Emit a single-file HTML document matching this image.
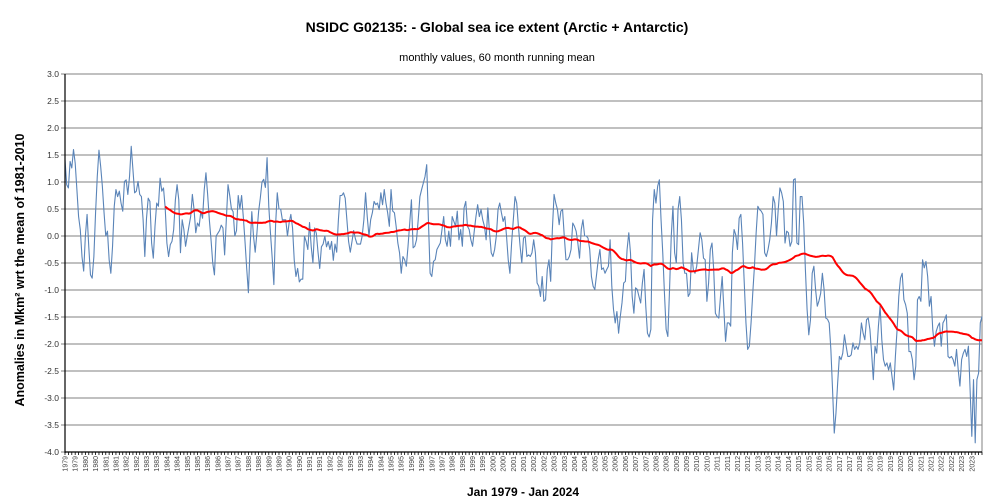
<!DOCTYPE html>
<html><head><meta charset="utf-8">
<style>
html,body{margin:0;padding:0;background:#fff;}
svg{display:block;font-family:"Liberation Sans",sans-serif;}
</style></head>
<body>
<svg id="chart" width="994" height="503" viewBox="0 0 994 503" xmlns="http://www.w3.org/2000/svg">
<rect x="0" y="0" width="994" height="503" fill="#fff"/>
<text x="497" y="32" text-anchor="middle" font-size="14" font-weight="bold" fill="#000">NSIDC G02135: - Global sea ice extent (Arctic + Antarctic)</text>
<text x="497" y="61" text-anchor="middle" font-size="11" fill="#000">monthly values, 60 month running mean</text>
<text transform="translate(24,270) rotate(-90)" text-anchor="middle" font-size="12.5" font-weight="bold" fill="#000">Anomalies in Mkm² wrt the mean of 1981-2010</text>
<text x="523" y="496" text-anchor="middle" font-size="12" font-weight="bold" fill="#000">Jan 1979 - Jan 2024</text>
<g id="grid"></g><g id="series"></g><g id="axes"></g>
</svg>
<script>
const yTicks = [3.0,2.5,2.0,1.5,1.0,0.5,0.0,-0.5,-1.0,-1.5,-2.0,-2.5,-3.0,-3.5,-4.0];
const startYear = 1979;
const windowMonths = 60;
const monthlyAnomaly = [
1.41,0.95,0.89,1.38,1.26,1.6,1.35,0.86,0.36,0.12,-0.38,-0.65,
0.0,0.4,-0.2,-0.72,-0.78,-0.38,0.43,1.1,1.59,1.29,0.92,0.43,
0.0,0.09,-0.44,-0.69,-0.19,0.55,0.86,0.73,0.83,0.61,0.46,1.01,
1.04,0.77,1.1,1.66,1.23,0.8,0.83,1.01,0.77,0.73,0.3,-0.38,
0.33,0.7,0.64,-0.13,-0.41,0.18,0.61,0.55,1.07,0.83,0.89,0.52,
-0.13,-0.38,-0.16,-0.1,0.12,0.67,0.95,0.67,-0.31,0.3,0.12,-0.19,
0.0,0.18,0.36,0.77,0.49,0.06,0.24,0.18,0.46,0.33,0.86,1.17,
0.77,0.3,-0.07,-0.5,-0.72,0.0,0.05,0.1,0.2,0.15,-0.35,0.3,
0.95,0.75,0.5,0.45,0.0,0.1,0.75,0.5,0.75,0.35,-0.1,-0.6,
-1.05,-0.2,0.45,0.0,-0.3,0.05,0.45,0.7,1.0,1.05,0.9,1.45,
0.55,0.05,-0.4,-0.9,0.2,0.8,0.5,0.5,0.3,0.3,0.3,0.0,
0.25,0.4,0.15,-0.45,-0.75,-0.6,-0.85,-0.8,-0.8,0.0,-0.1,-0.25,
0.25,-0.2,-0.5,0.15,0.05,-0.3,-0.6,-0.2,-0.15,0.0,-0.2,-0.1,
-0.25,-0.1,-0.45,-0.15,-0.3,0.3,0.75,0.75,0.8,0.7,0.3,-0.1,
-0.3,-0.1,0.1,-0.05,-0.15,-0.15,-0.15,0.0,0.3,0.8,0.35,0.0,
0.30,0.43,0.64,0.58,0.61,0.49,0.80,0.58,0.86,0.61,0.43,0.18,
0.86,0.46,0.43,0.18,-0.13,-0.31,-0.69,-0.38,-0.44,-0.56,-0.19,0.24,
0.67,-0.22,-0.19,-0.07,0.30,0.73,0.86,0.98,1.10,1.32,0.3,-0.69,
-0.75,-0.47,-0.44,-0.25,-0.19,-0.13,0.12,0.36,-0.07,-0.19,0.09,-0.19,
0.36,0.27,0.18,0.46,-0.07,0.12,-0.19,0.52,0.64,0.18,0.12,-0.07,
-0.19,0.09,0.36,0.58,0.36,0.49,0.30,0.18,-0.07,0.52,0.06,-0.31,
-0.38,-0.25,0.0,0.49,0.61,0.43,0.27,0.36,0.0,-0.44,-0.69,-0.13,
0.30,0.73,0.61,0.18,-0.19,-0.50,-0.04,-0.01,-0.38,-0.35,-0.38,-0.31,
-0.07,-0.31,-0.87,-0.93,-1.12,-0.75,-1.21,-1.18,-0.62,-0.44,-0.84,0.12,
0.77,0.61,0.49,0.21,0.46,0.49,0.0,-0.44,-0.44,-0.38,-0.25,0.24,
0.18,0.09,-0.13,-0.41,0.12,0.30,0.0,0.0,-0.04,-0.25,-0.75,-0.93,
-0.99,-0.72,-0.44,-0.25,-0.62,-0.59,-0.69,-0.62,-0.56,-0.07,-0.93,-1.36,
-1.61,-1.40,-1.80,-1.49,-1.24,-0.87,-0.84,-0.25,0.06,-0.31,-1.12,-1.43,
-0.96,-0.99,-1.12,-1.24,-0.87,-0.62,-1.30,-1.80,-1.87,-1.73,0.30,0.86,
0.61,0.92,1.04,0.30,-0.31,-1.06,-1.73,-1.86,-0.99,-0.01,0.55,-0.31,
-0.50,0.49,0.73,0.30,-0.50,-0.69,-0.69,-1.12,-1.06,-0.31,-0.62,-0.69,
-0.56,-0.25,0.06,-0.07,-0.41,-0.44,-1.21,-0.87,-0.25,-0.13,-0.62,-1.43,
-1.49,-1.52,-1.12,-0.75,-1.36,-1.95,-1.61,-1.61,-1.67,-0.31,0.12,0.02,
-0.25,0.33,0.40,-0.13,-0.87,-1.61,-2.10,-2.04,-1.61,-1.06,-0.56,0.06,
0.55,0.49,0.46,0.40,-0.31,-0.38,-0.25,-0.07,0.24,0.73,0.61,0.0,
0.49,0.89,0.80,0.64,-0.13,0.09,0.06,-0.19,-0.10,1.04,1.06,-0.13,
-0.16,0.73,0.73,0.24,-0.62,-1.36,-1.83,-1.55,-0.69,-0.56,-0.99,-1.30,
-1.2,-1.06,-0.69,-0.99,-1.52,-1.54,-1.61,-2.10,-2.85,-3.65,-3.28,-2.72,
-2.23,-2.29,-2.17,-1.83,-2.04,-2.23,-2.23,-2.20,-1.98,-2.10,-2.04,-2.10,
-1.98,-1.61,-1.80,-1.92,-1.55,-1.52,-1.73,-2.17,-2.66,-2.04,-2.17,-1.67,
-1.30,-1.92,-2.29,-2.41,-2.35,-2.48,-2.35,-2.60,-2.85,-2.23,-1.73,-1.12,
-0.78,-0.69,-1.18,-1.27,-1.43,-2.14,-2.14,-2.29,-2.66,-2.41,-1.18,-1.12,
-1.21,-0.44,-0.59,-0.47,-0.75,-1.30,-1.12,-1.73,-2.04,-1.77,-1.67,-1.61,
-2.04,-1.61,-1.55,-1.46,-2.23,-2.26,-2.23,-2.29,-2.41,-2.10,-2.48,-2.78,
-2.29,-2.17,-2.10,-2.23,-2.04,-2.85,-3.71,-2.66,-3.83,-2.66,-2.54,-1.61,
-1.49
];

const X0 = 65, X1 = 982, Ytop = 74, Ybot = 452, vMax = 3.0, vMin = -4.0;
const NS = "http://www.w3.org/2000/svg";
const nMonths = monthlyAnomaly.length;
function xScale(m){ return X0 + (X1 - X0) * m / (nMonths - 1); }
function yScale(v){ return Ytop + (vMax - v) / (vMax - vMin) * (Ybot - Ytop); }
function mk(tag, attrs, parent){ const e = document.createElementNS(NS, tag); for (const k in attrs) e.setAttribute(k, attrs[k]); parent.appendChild(e); return e; }

const grid = document.getElementById('grid');
const axes = document.getElementById('axes');
const series = document.getElementById('series');

yTicks.forEach(v => {
  const y = yScale(v);
  const gl = mk('line', {x1: X0 - 4, x2: X1, y1: y, y2: y, stroke: '#808080', 'stroke-width': 1}, grid);
  
  
  const t = mk('text', {x: X0 - 6, y: y + 3, 'text-anchor': 'end', 'font-size': 8.5, fill: '#333'}, axes);
  t.textContent = v.toFixed(1);
  
  
});
const rb = mk('line', {x1: X1, x2: X1, y1: Ytop, y2: Ybot, stroke: '#808080', 'stroke-width': 1}, grid);



// raw series
let d = '';
monthlyAnomaly.forEach((v, i) => { d += (i ? 'L' : 'M') + xScale(i).toFixed(2) + ',' + yScale(v).toFixed(2); });
const raw = mk('path', {d: d, fill: 'none', stroke: '#5a84b8', 'stroke-width': 1.1, 'stroke-linejoin': 'round'}, series);



// running mean
let dm = '';
for (let i = windowMonths - 1; i < nMonths; i++) {
  let s = 0; for (let j = i - windowMonths + 1; j <= i; j++) s += monthlyAnomaly[j];
  const m = s / windowMonths;
  dm += (i === windowMonths - 1 ? 'M' : 'L') + xScale(i).toFixed(2) + ',' + yScale(m).toFixed(2);
}
const rm = mk('path', {d: dm, fill: 'none', stroke: '#ff0000', 'stroke-width': 2, 'stroke-linejoin': 'round'}, series);



// axes
const ya = mk('line', {x1: X0, x2: X0, y1: Ytop, y2: Ybot + 1, stroke: '#000', 'stroke-width': 1.2}, axes);


const xa = mk('line', {x1: X0, x2: X1, y1: Ybot, y2: Ybot, stroke: '#000', 'stroke-width': 1.2}, axes);


for (let m = 0; m < nMonths; m += 2) {
  const x = xScale(m);
  const tk = mk('line', {x1: x, x2: x, y1: Ybot, y2: Ybot + 3, stroke: '#000', 'stroke-width': 0.8}, axes);
  
  
}
for (let m = 0; m < nMonths - 1; m += 6) {
  const x = xScale(m);
  const lab = mk('text', {transform: 'translate(' + (x + 2.5) + ',' + (Ybot + 4) + ') rotate(-90)', 'text-anchor': 'end', 'font-size': 7, fill: '#444'}, axes);
  lab.textContent = String(startYear + Math.floor(m / 12));
  
  
}
</script>
</body></html>
